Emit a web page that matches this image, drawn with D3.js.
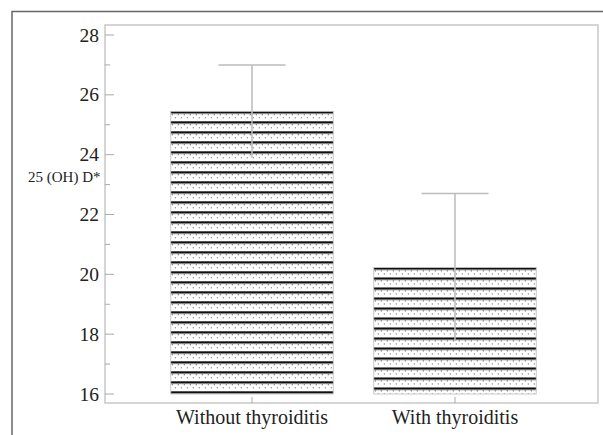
<!DOCTYPE html>
<html>
<head>
<meta charset="utf-8">
<script src="https://cdn.jsdelivr.net/npm/d3@7"></script>
<style>
html,body{margin:0;padding:0;background:#fff;}
svg{display:block;font-family:"Liberation Serif","Times New Roman",serif;}
</style>
</head>
<body>
<svg id="chart" width="603" height="435"></svg>
<script>
const categories = ["Without thyroiditis", "With thyroiditis"];
const means = [25.45, 20.23];
const sds = [1.55, 2.47];
const yTicks = [16, 18, 20, 22, 24, 26, 28];
const yMinorTicks = [17, 19, 21, 23, 25, 27];
const yLabel = "25 (OH) D*";

const svg = d3.select("#chart");
const W = 603, H = 435;
const plot = {left: 105, top: 25, right: 598, bottom: 403};

const y = d3.scaleLinear().domain([16, 28]).range([394, 35]);
const x = d3.scaleBand().domain(categories).range([150.5, 556.5]).paddingInner(0.2).paddingOuter(0.1);

// patterns (one per bar, aligned to the bar top)
const defs = svg.append("defs");
categories.forEach((c, i) => {
  const pat = defs.append("pattern").attr("id", "hatch" + i).attr("patternUnits", "userSpaceOnUse")
    .attr("width", 6).attr("height", 10).attr("x", x(c)).attr("y", y(means[i]));
  pat.append("rect").attr("width", 6).attr("height", 10).attr("fill", "#fff");
  pat.append("rect").attr("x", 0).attr("y", 0).attr("width", 6).attr("height", 2).attr("fill", "#111");
  pat.append("rect").attr("x", 0).attr("y", 2).attr("width", 6).attr("height", 0.6).attr("fill", "#888");
  pat.append("rect").attr("x", 1).attr("y", 3).attr("width", 1).attr("height", 1).attr("fill", "#555");
  pat.append("rect").attr("x", 4).attr("y", 6).attr("width", 1).attr("height", 1).attr("fill", "#555");
});

// outer frame (top + left)
svg.append("path").attr("d", `M12,${H} L12,11.5 L${W},11.5`).attr("fill", "none")
  .attr("stroke", "#666").attr("stroke-width", 1.5);

// plot frame
svg.append("rect").attr("x", plot.left).attr("y", plot.top)
  .attr("width", plot.right - plot.left).attr("height", plot.bottom - plot.top)
  .attr("fill", "none").attr("stroke", "#c8c8c8").attr("stroke-width", 1.5);

// y ticks
svg.append("g").selectAll("line.maj").data(yTicks).join("line")
  .attr("x1", plot.left).attr("x2", plot.left + 9)
  .attr("y1", d => y(d)).attr("y2", d => y(d))
  .attr("stroke", "#aaa").attr("stroke-width", 1);
svg.append("g").selectAll("line.min").data(yMinorTicks).join("line")
  .attr("x1", plot.left).attr("x2", plot.left + 5)
  .attr("y1", d => y(d)).attr("y2", d => y(d))
  .attr("stroke", "#aaa").attr("stroke-width", 1);
svg.append("g").selectAll("text").data(yTicks).join("text")
  .attr("x", 99).attr("y", d => y(d) + 6.5)
  .attr("text-anchor", "end").attr("font-size", 19.5).attr("fill", "#222")
  .text(d => d);

// y label
svg.append("text").attr("x", 28).attr("y", 182).attr("font-size", 15).attr("fill", "#222").text(yLabel);

// x ticks
svg.append("g").selectAll("line").data(categories).join("line")
  .attr("x1", d => x(d) + x.bandwidth() / 2).attr("x2", d => x(d) + x.bandwidth() / 2)
  .attr("y1", plot.bottom).attr("y2", plot.bottom - 6)
  .attr("stroke", "#aaa").attr("stroke-width", 1);
svg.append("g").selectAll("text").data(categories).join("text")
  .attr("x", d => x(d) + x.bandwidth() / 2).attr("y", 424)
  .attr("text-anchor", "middle").attr("font-size", 20).attr("fill", "#222")
  .text(d => d);

// bars
svg.append("g").selectAll("rect").data(categories).join("rect")
  .attr("x", d => x(d)).attr("width", x.bandwidth())
  .attr("y", (d, i) => y(means[i])).attr("height", (d, i) => y(16) - y(means[i]))
  .attr("fill", (d, i) => `url(#hatch${i})`).attr("stroke", "#bbb").attr("stroke-width", 0.8);

// error bars
const eg = svg.append("g");
categories.forEach((c, i) => {
  const cx = x(c) + x.bandwidth() / 2;
  eg.append("line").attr("x1", cx).attr("x2", cx)
    .attr("y1", y(means[i] + sds[i])).attr("y2", y(means[i] - sds[i]))
    .attr("stroke", "#bbb").attr("stroke-width", 1.5);
  eg.append("line").attr("x1", cx - 33.5).attr("x2", cx + 33.5)
    .attr("y1", y(means[i] + sds[i])).attr("y2", y(means[i] + sds[i]))
    .attr("stroke", "#bbb").attr("stroke-width", 1.5);
});
</script>
</body>
</html>
